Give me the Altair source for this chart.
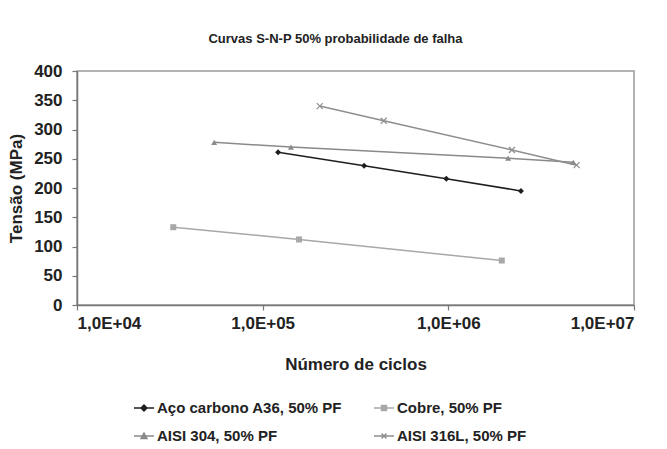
import altair as alt
import pandas as pd

# ---- data ----
series_names = ["Aço carbono A36, 50% PF", "Cobre, 50% PF", "AISI 304, 50% PF", "AISI 316L, 50% PF"]
a36_n = [1.21e5, 3.52e5, 9.75e5, 2.46e6]
a36_s = [261, 238, 216, 195]
cobre_n = [3.3e4, 1.57e5, 1.94e6]
cobre_s = [133, 112, 76]
aisi304_n = [5.48e4, 1.42e5, 2.10e6, 4.71e6]
aisi304_s = [278, 270, 251, 244]
aisi316_n = [2.03e5, 4.49e5, 2.20e6, 4.91e6]
aisi316_s = [340, 315, 265, 239]
x_ticks = [1e4, 1e5, 1e6, 1e7]
y_ticks = [0, 50, 100, 150, 200, 250, 300, 350, 400]

colors = ["#1e1e1e", "#a8a8a8", "#8a8a8a", "#8e8e8e"]
plot_shapes = ["diamond", "square", "triangle-up", "M-1,-1L1,1M-1,1L1,-1"]
plot_filled = [True, True, True, False]
legend_shapes = [
    "M-1,0H1M0,-0.3L0.3,0L0,0.3L-0.3,0Z",
    "M-1,0H1M-0.25,-0.25H0.25V0.25H-0.25Z",
    "M-1,0H1M0,-0.3L0.3,0.25H-0.3Z",
    "M-1,0H1M-0.25,-0.25L0.25,0.25M-0.25,0.25L0.25,-0.25",
]

rows = []
for name, ns, ss in zip(series_names, [a36_n, cobre_n, aisi304_n, aisi316_n],
                        [a36_s, cobre_s, aisi304_s, aisi316_s]):
    for n, s in zip(ns, ss):
        rows.append({"series": name, "n": n, "s": s})
df = pd.DataFrame(rows)

FONT = "Liberation Sans"

x_enc = alt.X("n:Q", scale=alt.Scale(type="log", domain=[1e4, 1e7], nice=False),
              axis=alt.Axis(title="Número de ciclos", values=x_ticks,
                            labelExpr="'1,0E+0' + round(log(datum.value)/LN10)",
                            grid=False, tickSize=5, labelPadding=5,
                            titlePadding=25))
y_enc = alt.Y("s:Q", scale=alt.Scale(domain=[0, 400], nice=False),
              axis=alt.Axis(title="Tensão (MPa)", values=y_ticks, grid=False,
                            tickSize=5, labelPadding=10, titlePadding=8))

base = alt.Chart(df)
layers = []
for i, name in enumerate(series_names):
    sub = base.transform_filter(alt.datum.series == name)
    layers.append(sub.mark_line(color=colors[i], strokeWidth=1.5).encode(x=x_enc, y=y_enc))
for i, name in enumerate(series_names):
    sub = base.transform_filter(alt.datum.series == name)
    layers.append(sub.mark_point(shape=plot_shapes[i], filled=plot_filled[i],
                                 color=colors[i], size=36, strokeWidth=1.2,
                                 opacity=1).encode(x=x_enc, y=y_enc))

legend = alt.Legend(title=None, orient="none", legendX=56, legendY=326, columns=2,
                    direction="horizontal",
                    symbolSize=400, symbolStrokeWidth=1.4, labelFont=FONT,
                    labelFontSize=15, labelFontWeight="bold", labelColor="#222",
                    labelOffset=2, columnPadding=28, rowPadding=9, labelLimit=400)
color_scale = alt.Scale(domain=series_names, range=colors)
shape_scale = alt.Scale(domain=series_names, range=legend_shapes)
legend_layer = base.transform_filter("datum.s < 0").mark_point(filled=True, opacity=1).encode(
    x=x_enc, y=y_enc,
    fill=alt.Fill("series:N", scale=color_scale, legend=legend, sort=None),
    stroke=alt.Stroke("series:N", scale=color_scale, legend=legend, sort=None),
    shape=alt.Shape("series:N", scale=shape_scale, legend=legend, sort=None),
)
layers.append(legend_layer)

chart = alt.layer(*layers).properties(
    width=557, height=234,
    background="white",
    title=alt.TitleParams("Curvas S-N-P 50% probabilidade de falha", font=FONT,
                          fontSize=13, fontWeight="bold", color="#222",
                          anchor="middle", offset=16, dx=-20),
    autosize=alt.AutoSizeParams(type="none"),
    padding={"left": 77, "top": 71, "right": 33, "bottom": 144},
).configure_view(stroke="#9a9a9a", strokeWidth=1.5).configure_axis(
    labelFont=FONT, labelFontSize=17, labelFontWeight="bold", labelColor="#222",
    titleFont=FONT, titleFontSize=17, titleFontWeight="bold", titleColor="#222",
    domainColor="#777", domainWidth=1.5, tickColor="#777", tickWidth=1.2,
)

chart.save("out.html", embed_options={"renderer": "svg", "actions": False})
